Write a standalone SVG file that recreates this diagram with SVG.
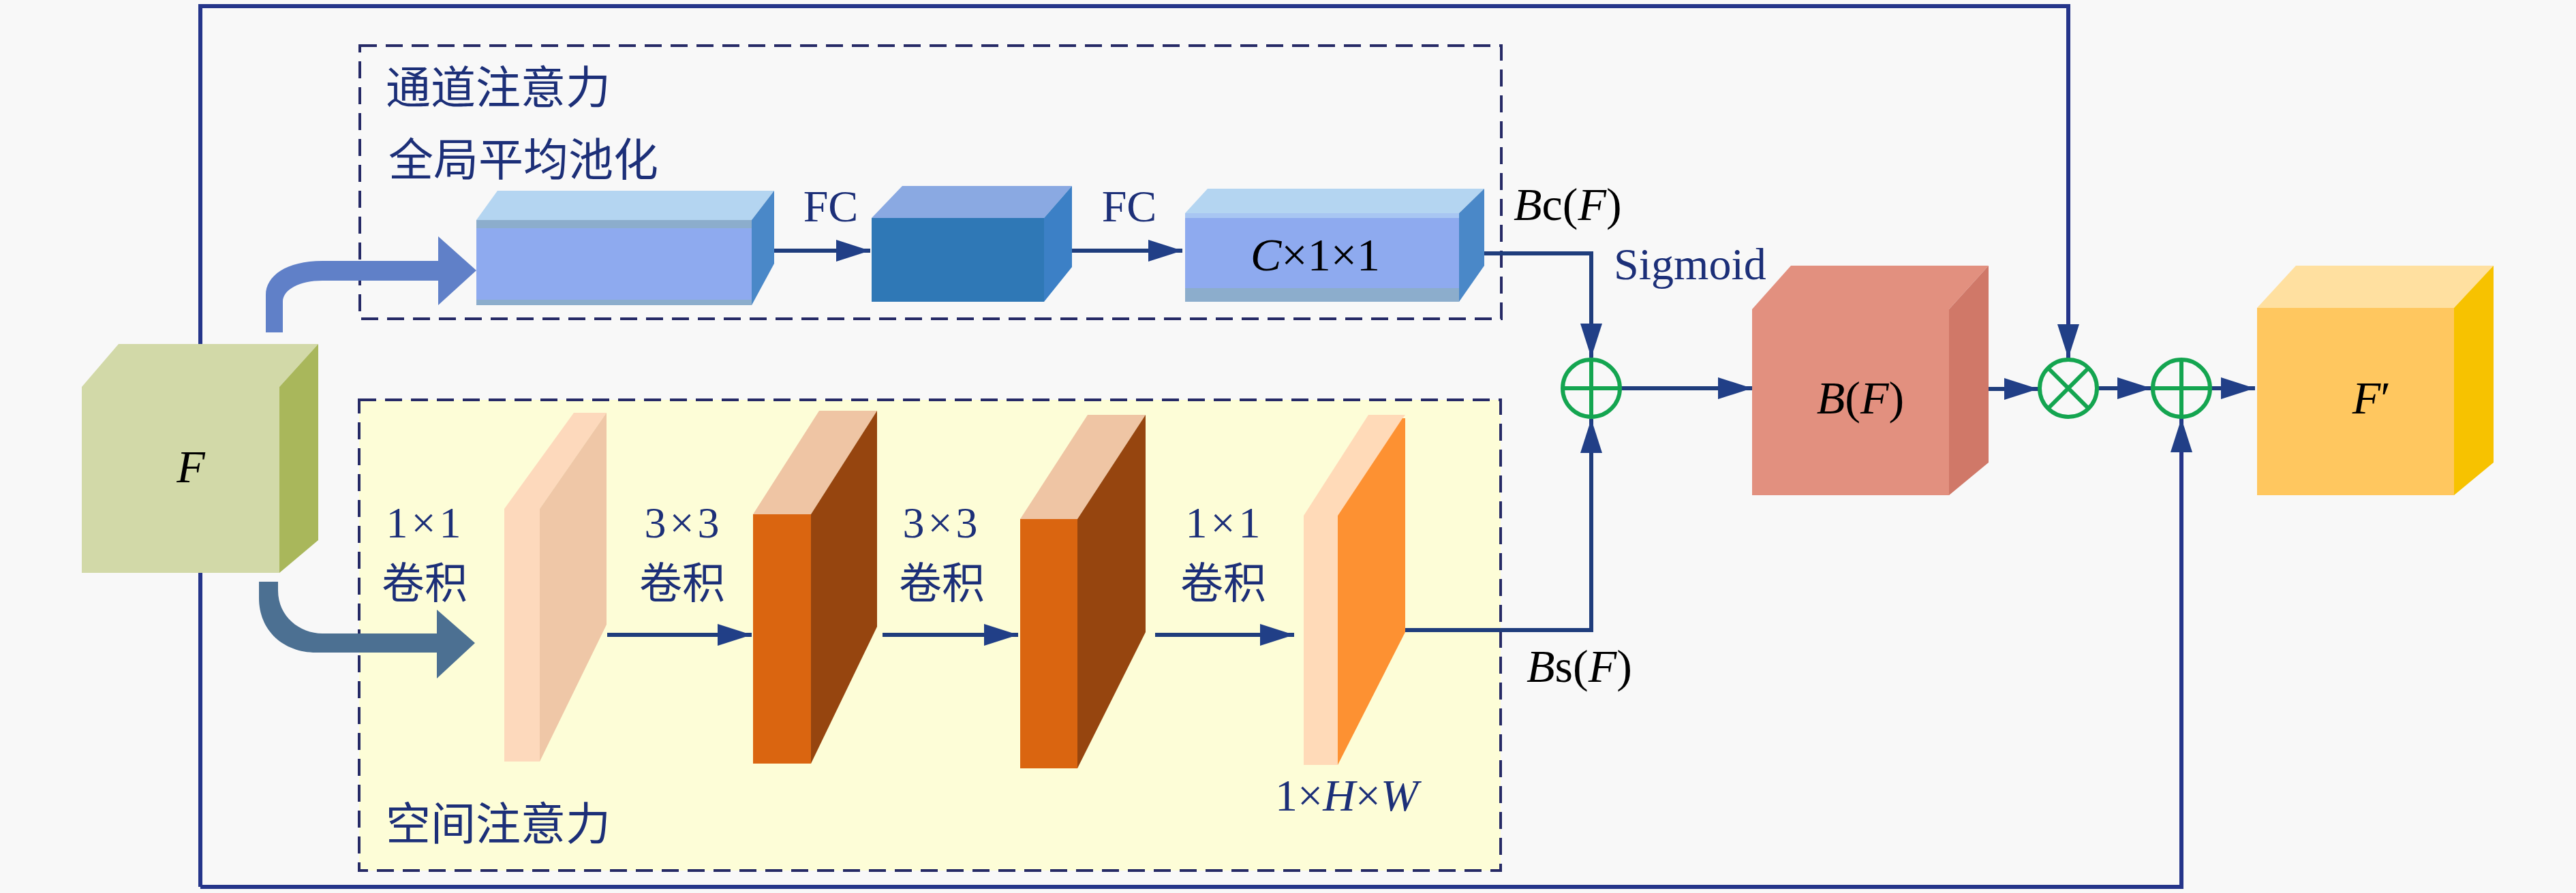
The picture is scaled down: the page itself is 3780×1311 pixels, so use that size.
<svg xmlns="http://www.w3.org/2000/svg" width="3780" height="1311" viewBox="0 0 3780 1311">
<defs>
<marker id="ah" markerUnits="userSpaceOnUse" markerWidth="50" markerHeight="32" refX="50" refY="16" orient="auto">
<path d="M0,0 L50,16 L0,32 Z" fill="#213f87"/>
</marker>
<style>
.cn{fill:none;stroke:#1f3d7c;stroke-width:6}
.fr{fill:none;stroke:#25358a;stroke-width:6}
.dash{stroke:#262a66;stroke-width:4;stroke-dasharray:25 13}
.cjk{font-family:"Noto Sans CJK SC","Noto Sans CJK JP",sans-serif;font-size:66px;fill:#1c2f78}
.cv{font-family:"Noto Sans CJK SC","Noto Sans CJK JP",sans-serif;font-size:63px;fill:#1c2f78}
.lbl{font-family:"Liberation Serif","DejaVu Serif",serif;font-size:66px;fill:#1c2f78}
.num{font-family:"Liberation Serif","DejaVu Serif",serif;font-size:64px;fill:#1c2f78;letter-spacing:5px}
.math{font-family:"Liberation Serif","DejaVu Serif",serif;font-size:68px;fill:#000}
.op{fill:none;stroke:#14a550;stroke-width:6}
</style>
</defs>
<rect x="0" y="0" width="3780" height="1311" fill="#f8f8f8"/>

<g id="frame">
<path class="fr" d="M294 1302 V9 H3035 V526" marker-end="url(#ah)"/>
<path class="fr" d="M294 1302 H3201 V614" marker-end="url(#ah)"/>
</g>

<g id="channel-attention">
<rect class="dash" x="528" y="67" width="1675" height="401" fill="none"/>
<text class="cjk" x="566" y="152">通道注意力</text>
<text class="cjk" x="570" y="258">全局平均池化</text>
</g>

<g id="spatial-attention">
<rect class="dash" x="527" y="587" width="1675" height="691" fill="#fdfdd7"/>
<text class="cjk" x="566" y="1233">空间注意力</text>
</g>

<g id="input-F">
<polygon points="120,568 174,505 467,505 410,568" fill="#d2d9a8"/>
<rect x="120" y="568" width="290" height="273" fill="#d2d9a8"/>
<polygon points="410,568 467,505 467,793 410,841" fill="#a9b75b"/>
<text class="math" x="280" y="708" text-anchor="middle" font-style="italic">F</text>
</g>

<g id="arrow-to-channel">
<path d="M390 488 L390 433 C390 405 420 383 473 383 L643 383 L643 347 L699 397 L643 448 L643 412 L473 412 C440 412 415 425 415 443 L415 488 Z" fill="#6080c8"/>
</g>

<g id="arrow-to-spatial">
<path d="M380 854 L380 878 C380 925 415 958 464 958 L641 958 L641 996 L697 944 L641 895 L641 930 L473 930 C440 930 408 905 408 867 L408 854 Z" fill="#4c7092"/>
</g>

<g id="gap-box">
<polygon points="699,323 730,280 1136,280 1103,323" fill="#b4d5f1"/>
<rect x="699" y="323" width="404" height="125" fill="#8cadcc"/>
<rect x="699" y="335" width="404" height="105" fill="#8eaaef"/>
<polygon points="1103,323 1136,280 1136,387 1103,448" fill="#4a88c8"/>
</g>

<g id="fc1-box">
<polygon points="1279,320 1324,273 1573,273 1532,320" fill="#8aa9e2"/>
<rect x="1279" y="320" width="253" height="123" fill="#2f78b6"/>
<polygon points="1532,320 1573,273 1573,392 1532,443" fill="#3c80c6"/>
</g>

<g id="fc2-box">
<polygon points="1739,313 1772,277 2178,277 2141,313" fill="#b4d5f1"/>
<rect x="1739" y="313" width="402" height="130" fill="#8cadcc"/>
<rect x="1739" y="313" width="402" height="110" fill="#8eaaef"/>
<rect x="1739" y="313" width="402" height="7" fill="#a8c6f2"/>
<polygon points="2141,313 2178,277 2178,390 2141,443" fill="#4a88c8"/>
<text class="math" x="1930" y="397" text-anchor="middle" font-size="70"><tspan font-style="italic">C</tspan>×1×1</text>
</g>

<g id="conv1">
<polygon points="740,747 842,606 890,606 792,747" fill="#fdd9bc"/>
<rect x="740" y="747" width="52" height="371" fill="#fdd9bc"/>
<polygon points="792,747 890,606 890,917 792,1118" fill="#efc7a7"/>
<text class="num" x="624" y="789" text-anchor="middle">1×1</text>
<text class="cv" x="623" y="878" text-anchor="middle">卷积</text>
</g>

<g id="conv2">
<polygon points="1105,755 1202,603 1287,603 1190,755" fill="#efc5a4"/>
<rect x="1105" y="755" width="85" height="366" fill="#da6510"/>
<polygon points="1190,755 1287,603 1287,920 1190,1121" fill="#96450f"/>
<text class="num" x="1003" y="789" text-anchor="middle">3×3</text>
<text class="cv" x="1001" y="878" text-anchor="middle">卷积</text>
</g>

<g id="conv3">
<polygon points="1497,762 1596,609 1681,609 1581,762" fill="#efc5a4"/>
<rect x="1497" y="762" width="84" height="366" fill="#da6510"/>
<polygon points="1581,762 1681,609 1681,928 1581,1128" fill="#96450f"/>
<text class="num" x="1382" y="789" text-anchor="middle">3×3</text>
<text class="cv" x="1382" y="878" text-anchor="middle">卷积</text>
</g>

<g id="conv4">
<polygon points="1913,757 2008,609 2062,609 1963,757" fill="#ffdab8"/>
<rect x="1913" y="757" width="50" height="366" fill="#ffdab8"/>
<polygon points="1963,757 2058,614 2062,614 2062,928 1963,1123" fill="#fd9132"/>
<text class="num" x="1797" y="789" text-anchor="middle">1×1</text>
<text class="cv" x="1795" y="878" text-anchor="middle">卷积</text>
<text class="lbl" x="1976" y="1190" text-anchor="middle" font-size="70">1×<tspan font-style="italic">H</tspan>×<tspan font-style="italic">W</tspan></text>
</g>

<g id="connectors">
<path class="cn" d="M1136 368 H1277" marker-end="url(#ah)"/>
<path class="cn" d="M1573 368 H1735" marker-end="url(#ah)"/>
<path class="cn" d="M2178 372 H2335 V525" marker-end="url(#ah)"/>
<path class="cn" d="M2062 925 H2335 V615" marker-end="url(#ah)"/>
<path class="cn" d="M2378 570 H2571" marker-end="url(#ah)"/>
<path class="cn" d="M2918 571 H2991" marker-end="url(#ah)"/>
<path class="cn" d="M3077 570 H3157" marker-end="url(#ah)"/>
<path class="cn" d="M3243 570 H3309" marker-end="url(#ah)"/>
<path class="cn" d="M891 932 H1103" marker-end="url(#ah)"/>
<path class="cn" d="M1295 932 H1494" marker-end="url(#ah)"/>
<path class="cn" d="M1695 932 H1899" marker-end="url(#ah)"/>
<text class="lbl" x="1219" y="325" text-anchor="middle" font-size="70">FC</text>
<text class="lbl" x="1657" y="325" text-anchor="middle" font-size="70">FC</text>
<text class="math" x="2221" y="323"><tspan font-style="italic">B</tspan>c(<tspan font-style="italic">F</tspan>)</text>
<text class="lbl" x="2368" y="410" font-size="66" fill="#2a3a90">Sigmoid</text>
<text class="math" x="2240" y="1001"><tspan font-style="italic">B</tspan>s(<tspan font-style="italic">F</tspan>)</text>
</g>

<g id="sum1">
<circle class="op" cx="2335" cy="570" r="42"/>
<path class="op" stroke-width="5" d="M2293 570 H2377 M2335 528 V612"/>
</g>

<g id="attention-BF">
<polygon points="2571,454 2628,390 2918,390 2860,454" fill="#e2907f"/>
<rect x="2571" y="454" width="289" height="273" fill="#e2907f"/>
<polygon points="2860,454 2918,390 2918,679 2860,727" fill="#d07868"/>
<text class="math" x="2730" y="607" text-anchor="middle"><tspan font-style="italic">B</tspan>(<tspan font-style="italic">F</tspan>)</text>
</g>

<g id="mul">
<circle class="op" cx="3035" cy="570" r="42"/>
<path class="op" stroke-width="5" d="M3005 540 L3065 600 M3065 540 L3005 600"/>
</g>

<g id="sum2">
<circle class="op" cx="3201" cy="570" r="42"/>
<path class="op" stroke-width="5" d="M3159 570 H3243 M3201 528 V612"/>
</g>

<g id="output-F">
<polygon points="3312,452 3369,390 3659,390 3601,452" fill="#ffe0a0"/>
<rect x="3312" y="452" width="289" height="275" fill="#ffc75f"/>
<polygon points="3601,452 3659,390 3659,679 3601,727" fill="#f7c200"/>
<text class="math" x="3480" y="607" text-anchor="middle"><tspan font-style="italic">F</tspan>′</text>
</g>
</svg>
